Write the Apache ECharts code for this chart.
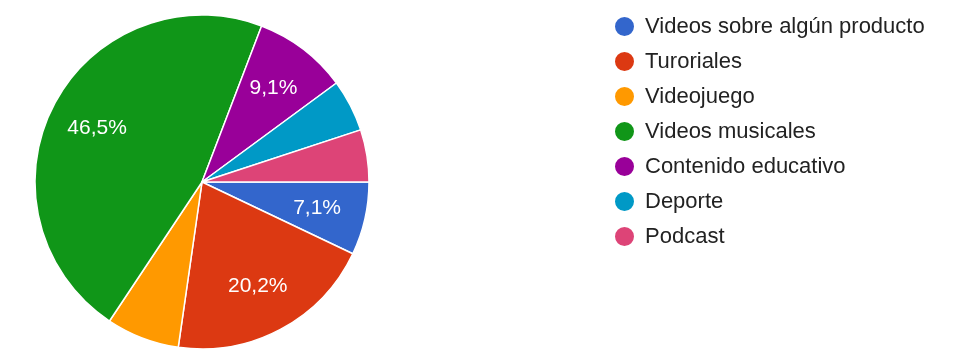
<!DOCTYPE html>
<html><head><meta charset="utf-8">
<script src="https://cdn.jsdelivr.net/npm/echarts@6/dist/echarts.min.js"></script>
<style>html,body{margin:0;padding:0;background:#fff}#c{width:970px;height:357px}</style>
</head><body><div id="c"></div>
<script>
var categories = ['Videos sobre algún producto','Turoriales','Videojuego','Videos musicales','Contenido educativo','Deporte','Podcast'];
var counts = [7, 20, 7, 46, 9, 5, 5];
var colors = ['#3366cc','#dc3912','#ff9900','#109618','#990099','#0099c6','#dd4477'];
var showLabel = [true, true, false, true, true, false, false];

var chart = echarts.init(document.getElementById('c'), null, {renderer:'canvas'});
var data = categories.map(function(n,i){return {name:n, value:counts[i], itemStyle:{color:colors[i]}};});
var labelData = categories.map(function(n,i){return {name:n, value:counts[i], label:{show:showLabel[i]}};});
chart.setOption({
  animation:false,
  legend:{
    orient:'vertical', left:608, top:10, itemWidth:21, itemHeight:21, itemGap:12,
    icon:'circle', data:categories,
    textStyle:{fontFamily:'Liberation Sans, Arial', fontSize:22, lineHeight:21, color:'#222', padding:[0,0,0,5]}
  },
  series:[
    {type:'pie', center:[202,182], radius:[0,167], startAngle:0, clockwise:true,
     data:data, label:{show:false}, labelLine:{show:false},
     itemStyle:{borderColor:'#fff', borderWidth:1.5}, emphasis:{disabled:true}},
    {type:'pie', center:[202,182], radius:[63,167], startAngle:0, clockwise:true, silent:true,
     data:labelData, itemStyle:{color:'rgba(0,0,0,0)'}, labelLine:{show:false},
     label:{position:'inside', color:'#fff', fontFamily:'Liberation Sans, Arial', fontSize:21,
       formatter:function(p){return p.percent.toFixed(1).replace('.',',')+'%';}},
     emphasis:{disabled:true}}
  ]
});
</script></body></html>
